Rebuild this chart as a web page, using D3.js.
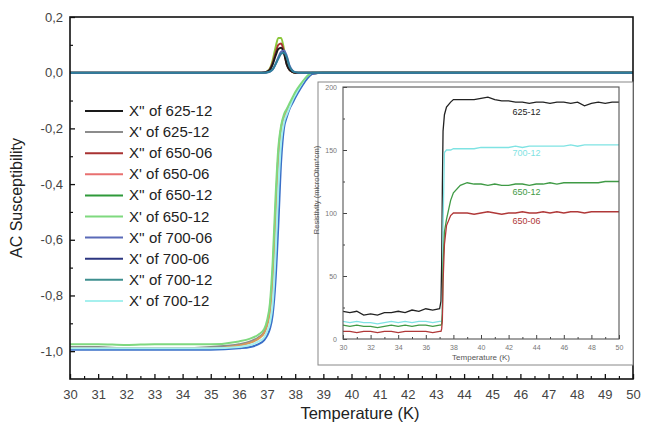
<!DOCTYPE html>
<html>
<head>
<meta charset="utf-8">
<script src="https://cdn.jsdelivr.net/npm/d3@7"></script>
<style>
  body { margin: 0; background: #fff; }
  svg { font-family: "Liberation Sans", Arial, sans-serif; }
</style>
</head>
<body>
<svg id="chart" width="653" height="423"></svg>
<script>
// temperature grid for the AC susceptibility curves (K)
const tMain = [30, 31, 32, 33, 34, 35, 36, 36.4, 36.7, 36.9, 37.0, 37.1, 37.2, 37.3, 37.4, 37.5, 37.6, 37.7, 37.8, 37.9, 38.0, 38.2, 38.4, 38.6, 39, 40, 42, 44, 46, 48, 50];

// X' (real part)
const xr62512 = [-0.985, -0.985, -0.99, -0.99, -0.99, -0.985, -0.975, -0.965, -0.95, -0.93, -0.9, -0.85, -0.72, -0.5, -0.3, -0.2, -0.16, -0.14, -0.12, -0.1, -0.08, -0.05, -0.02, -0.005, 0, 0, 0, 0, 0, 0, 0];
const xr65006 = [-0.99, -0.99, -0.99, -0.99, -0.99, -0.99, -0.98, -0.97, -0.955, -0.935, -0.91, -0.86, -0.74, -0.52, -0.3, -0.2, -0.16, -0.135, -0.115, -0.095, -0.075, -0.045, -0.02, -0.005, 0, 0, 0, 0, 0, 0, 0];
const xr70006 = [-0.995, -0.995, -0.995, -0.995, -0.995, -0.995, -0.99, -0.985, -0.975, -0.96, -0.945, -0.92, -0.87, -0.75, -0.55, -0.32, -0.2, -0.16, -0.13, -0.11, -0.09, -0.055, -0.025, -0.005, 0, 0, 0, 0, 0, 0, 0];
const xr70012 = [-0.99, -0.99, -0.99, -0.99, -0.99, -0.99, -0.985, -0.978, -0.965, -0.95, -0.93, -0.9, -0.83, -0.66, -0.42, -0.25, -0.18, -0.15, -0.125, -0.1, -0.08, -0.045, -0.015, 0, 0, 0, 0, 0, 0, 0, 0];
const xr65012 = [-0.975, -0.975, -0.978, -0.975, -0.975, -0.975, -0.965, -0.955, -0.94, -0.92, -0.89, -0.83, -0.68, -0.45, -0.27, -0.19, -0.15, -0.13, -0.11, -0.09, -0.07, -0.04, -0.015, 0, 0, 0, 0, 0, 0, 0, 0];

// X'' (imaginary part)
const xi62512 = [0, 0, 0, 0, 0, 0, 0, 0, 0, 0.001, 0.003, 0.01, 0.03, 0.06, 0.085, 0.09, 0.07, 0.03, 0.01, 0.003, 0, 0, 0, 0, 0, 0, 0, 0, 0, 0, 0];
const xi65006 = [0, 0, 0, 0, 0, 0, 0, 0, 0, 0.001, 0.004, 0.012, 0.035, 0.07, 0.1, 0.105, 0.075, 0.03, 0.01, 0.003, 0, 0, 0, 0, 0, 0, 0, 0, 0, 0, 0];
const xi70006 = [0, 0, 0, 0, 0, 0, 0, 0, 0, 0, 0.001, 0.004, 0.012, 0.03, 0.055, 0.075, 0.08, 0.06, 0.025, 0.008, 0.002, 0, 0, 0, 0, 0, 0, 0, 0, 0, 0];
const xi70012 = [0, 0, 0, 0, 0, 0, 0, 0, 0, 0, 0.001, 0.004, 0.012, 0.03, 0.05, 0.068, 0.072, 0.055, 0.022, 0.007, 0.002, 0, 0, 0, 0, 0, 0, 0, 0, 0, 0];
const xi65012 = [0, 0, 0, 0, 0, 0, 0, 0, 0, 0.001, 0.005, 0.015, 0.045, 0.09, 0.125, 0.125, 0.085, 0.035, 0.012, 0.003, 0, 0, 0, 0, 0, 0, 0, 0, 0, 0, 0];

// legend (order as in the picture)
const legendLabels = ["X'' of 625-12", "X' of 625-12", "X'' of 650-06", "X' of 650-06", "X'' of 650-12", "X' of 650-12", "X'' of 700-06", "X' of 700-06", "X'' of 700-12", "X' of 700-12"];
const legendColors = ["#1a1a1a", "#8c8c8c", "#a83232", "#e87070", "#2f9a3a", "#7fd97f", "#5a6ab8", "#2c3680", "#3e8f8f", "#a6f0ee"];

const xTicks = d3.range(30, 51, 1);
const yTicks = [0.2, 0, -0.2, -0.4, -0.6, -0.8, -1.0];

// inset : resistivity
const tIns = [30, 30.5, 31, 31.5, 32, 32.5, 33, 33.5, 34, 34.5, 35, 35.5, 36, 36.5, 37, 37.1, 37.15, 37.2, 37.25, 37.35, 37.5, 37.8, 38, 38.5, 39, 39.5, 40, 40.5, 41, 41.5, 42, 42.5, 43, 43.5, 44, 44.5, 45, 45.5, 46, 46.5, 47, 47.5, 48, 48.5, 49, 49.5, 50];
const rho62512 = [22, 21, 22, 19, 20, 19, 21, 21, 22, 21, 23, 22, 24, 23, 24, 30, 60, 120, 165, 178, 184, 188, 190, 190, 190, 190, 191, 192, 190, 189, 189, 188, 188, 187, 188, 188, 187, 188, 188, 187, 188, 185, 187, 188, 187, 188, 188];
const rho70012 = [14, 13, 14, 13, 13, 12, 13, 14, 13, 14, 13, 14, 14, 13, 14, 14, 14, 20, 90, 148, 150, 150, 151, 151, 151, 151, 152, 152, 152, 152, 152, 153, 152, 153, 153, 153, 153, 153, 153, 154, 153, 154, 154, 154, 154, 154, 154];
const rho65012 = [11, 10, 11, 10, 10, 9, 10, 11, 10, 11, 10, 11, 11, 10, 11, 11, 12, 20, 60, 85, 95, 110, 116, 122, 124, 123, 123, 122, 123, 122, 122, 123, 123, 122, 123, 123, 124, 123, 124, 124, 124, 124, 124, 124, 125, 125, 125];
const rho65006 = [6, 6, 5, 6, 6, 5, 6, 6, 5, 6, 6, 6, 6, 5, 6, 6, 8, 15, 45, 75, 90, 98, 100, 100, 100, 99, 100, 101, 100, 99, 100, 100, 101, 100, 100, 101, 100, 101, 100, 101, 101, 100, 101, 101, 101, 101, 101];
const insLabels = ["625-12", "700-12", "650-12", "650-06"];
const insColors = ["#222", "#7fe3e3", "#3f9a45", "#b03838"];
const insLabelPos = [178, 145, 114, 91]; // resistivity level at which the label text sits

const svg = d3.select("#chart");
const fmt = d3.formatLocale({decimal: ",", thousands: ".", grouping: [3], currency: ["", ""], minus: "-"}).format(".1f");

// main plot area
const L = 70, R = 633, T = 17, B = 379;
const x = d3.scaleLinear().domain([30, 50]).range([L, R]);
const y = d3.scaleLinear().domain([-1.1, 0.2]).range([B, T]);

// axes (ticks inward)
svg.append("g")
    .attr("transform", `translate(0,${B})`)
    .call(d3.axisBottom(x).tickValues(xTicks).tickSize(-5).tickPadding(11).tickFormat(d3.format("d")))
    .call(g => g.select(".domain").remove())
    .call(g => g.selectAll("text").attr("font-size", 13).attr("fill", "#444").attr("font-family", null))
    .call(g => g.selectAll("line").attr("stroke", "#111").attr("stroke-width", 1.3));
svg.append("g")
    .attr("transform", `translate(0,${B})`)
    .call(d3.axisBottom(x).tickValues(d3.range(30.5, 50, 1)).tickSize(-3).tickFormat(""))
    .call(g => g.select(".domain").remove())
    .call(g => g.selectAll("line").attr("stroke", "#111").attr("stroke-width", 1.2));

svg.append("g")
    .attr("transform", `translate(${L},0)`)
    .call(d3.axisLeft(y).tickValues(yTicks).tickSize(-5).tickPadding(7).tickFormat(fmt))
    .call(g => g.select(".domain").remove())
    .call(g => g.selectAll("text").attr("font-size", 13).attr("fill", "#444").attr("font-family", null))
    .call(g => g.selectAll("line").attr("stroke", "#111").attr("stroke-width", 1.3));
svg.append("g")
    .attr("transform", `translate(${L},0)`)
    .call(d3.axisLeft(y).tickValues([0.1, -0.1, -0.3, -0.5, -0.7, -0.9]).tickSize(-3).tickFormat(""))
    .call(g => g.select(".domain").remove())
    .call(g => g.selectAll("line").attr("stroke", "#111").attr("stroke-width", 1.2));

// titles
svg.append("text")
    .attr("x", 360).attr("y", 419)
    .attr("text-anchor", "middle")
    .attr("font-size", 16.5).attr("fill", "#222")
    .text("Temperature (K)");
svg.append("text")
    .attr("transform", `translate(22,${(T + B) / 2}) rotate(-90)`)
    .attr("text-anchor", "middle")
    .attr("font-size", 16).attr("fill", "#222")
    .text("AC Susceptibility");

// curves
const line = d3.line()
    .x(d => x(d[0]))
    .y(d => y(d[1]))
    .curve(d3.curveMonotoneX);

const mainSeries = [
    {vals: xr62512, c: legendColors[1]},
    {vals: xr65006, c: "#d89a5a"},
    {vals: xr70006, c: "#3a6fc8"},
    {vals: xr70012, c: legendColors[9]},
    {vals: xr65012, c: legendColors[5]},
    {vals: xi65012, c: "#8cc83c"},
    {vals: xi65006, c: legendColors[2]},
    {vals: xi62512, c: legendColors[0]},
    {vals: xi70006, c: legendColors[6]},
    {vals: xi70012, c: "#2f7f9a"}
];

svg.append("g")
    .selectAll("path")
    .data(mainSeries)
    .join("path")
    .attr("d", s => line(tMain.map((t, i) => [t, s.vals[i]])))
    .attr("fill", "none")
    .attr("stroke", s => s.c)
    .attr("stroke-width", 2);

// frame
svg.append("rect")
    .attr("x", L).attr("y", T)
    .attr("width", R - L).attr("height", B - T)
    .attr("fill", "none").attr("stroke", "#111").attr("stroke-width", 1.6);

// legend
const leg = svg.append("g");
legendLabels.forEach((lab, i) => {
    const ly = 111 + i * 21.1;
    leg.append("line")
        .attr("x1", 85).attr("x2", 123)
        .attr("y1", ly).attr("y2", ly)
        .attr("stroke", legendColors[i]).attr("stroke-width", 2);
    leg.append("text")
        .attr("x", 129).attr("y", ly + 5)
        .attr("font-size", 15).attr("fill", "#222")
        .text(lab);
});

// ---------- inset ----------
svg.append("rect")
    .attr("x", 318).attr("y", 82)
    .attr("width", 315).attr("height", 283)
    .attr("fill", "#fff").attr("stroke", "#888").attr("stroke-width", 1);

const iL = 343, iR = 619, iT = 87, iB = 339;
const xi = d3.scaleLinear().domain([30, 50]).range([iL, iR]);
const yi = d3.scaleLinear().domain([0, 200]).range([iB, iT]);

svg.append("g")
    .attr("transform", `translate(0,${iB})`)
    .call(d3.axisBottom(xi).tickValues(d3.range(30, 51, 2)).tickSize(-4).tickPadding(6).tickFormat(d3.format("d")))
    .call(g => g.select(".domain").remove())
    .call(g => g.selectAll("text").attr("font-size", 7).attr("fill", "#777").attr("font-family", null))
    .call(g => g.selectAll("line").attr("stroke", "#444"));
svg.append("g")
    .attr("transform", `translate(0,${iB})`)
    .call(d3.axisBottom(xi).tickValues(d3.range(31, 50, 2)).tickSize(-2).tickFormat(""))
    .call(g => g.select(".domain").remove())
    .call(g => g.selectAll("line").attr("stroke", "#444"));
svg.append("g")
    .attr("transform", `translate(${iL},0)`)
    .call(d3.axisLeft(yi).tickValues([0, 50, 100, 150, 200]).tickSize(-4).tickPadding(6).tickFormat(d3.format("d")))
    .call(g => g.select(".domain").remove())
    .call(g => g.selectAll("text").attr("font-size", 7).attr("fill", "#777").attr("font-family", null))
    .call(g => g.selectAll("line").attr("stroke", "#444"));
svg.append("g")
    .attr("transform", `translate(${iL},0)`)
    .call(d3.axisLeft(yi).tickValues([25, 75, 125, 175]).tickSize(-2).tickFormat(""))
    .call(g => g.select(".domain").remove())
    .call(g => g.selectAll("line").attr("stroke", "#444"));

svg.append("text")
    .attr("x", (iL + iR) / 2).attr("y", 360)
    .attr("text-anchor", "middle")
    .attr("font-size", 8).attr("fill", "#555")
    .text("Temperature (K)");
svg.append("text")
    .attr("transform", `translate(319,190) rotate(-90)`)
    .attr("text-anchor", "middle")
    .attr("font-size", 7.5).attr("fill", "#555")
    .text("Resistivity (microOhm*cm)");

const lineI = d3.line()
    .x(d => xi(d[0]))
    .y(d => yi(d[1]));

const insSeries = [rho62512, rho70012, rho65012, rho65006];
svg.append("g")
    .selectAll("path")
    .data(insSeries)
    .join("path")
    .attr("d", vals => lineI(tIns.map((t, i) => [t, vals[i]])))
    .attr("fill", "none")
    .attr("stroke", (v, i) => insColors[i])
    .attr("stroke-width", 1.3);

insLabels.forEach((lab, i) => {
    svg.append("text")
        .attr("x", xi(43.3)).attr("y", yi(insLabelPos[i]))
        .attr("text-anchor", "middle")
        .attr("font-size", 9).attr("fill", insColors[i])
        .text(lab);
});

svg.append("rect")
    .attr("x", iL).attr("y", iT)
    .attr("width", iR - iL).attr("height", iB - iT)
    .attr("fill", "none").attr("stroke", "#555").attr("stroke-width", 1.1);
</script>
</body>
</html>
